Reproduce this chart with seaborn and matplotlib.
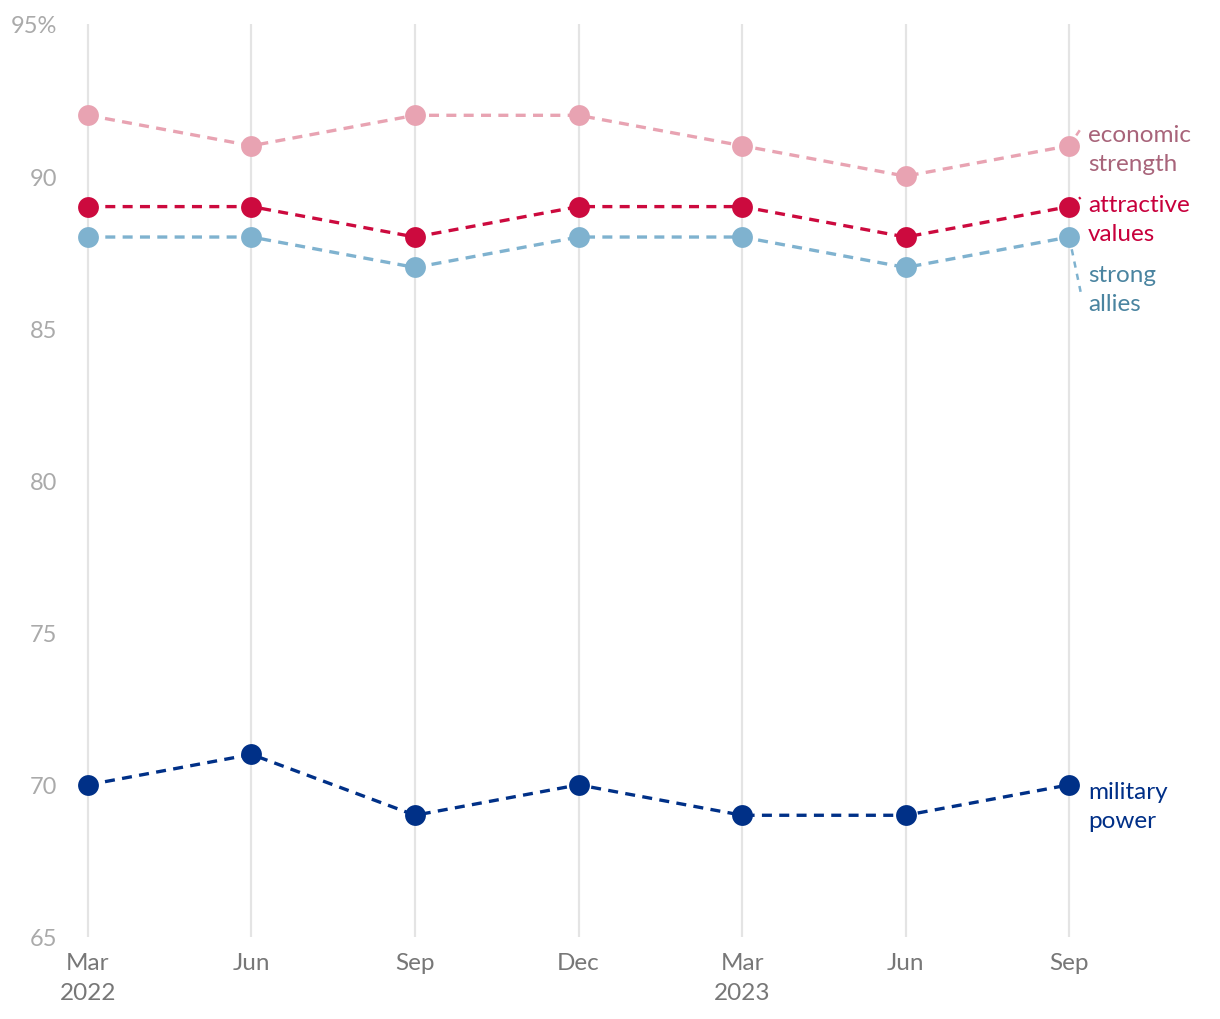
import pandas as pd
import seaborn as sns
import matplotlib.pyplot as plt

# survey waves
periods = ["Mar\n2022", "Jun", "Sep", "Dec", "Mar\n2023", "Jun", "Sep"]
economic = [92, 91, 92, 92, 91, 90, 91]
attractive = [89, 89, 88, 89, 89, 88, 89]
allies = [88, 88, 87, 88, 88, 87, 88]
military = [70, 71, 69, 70, 69, 69, 70]
yticks = [65, 70, 75, 80, 85, 90, 95]
ytick_labels = ["65", "70", "75", "80", "85", "90", "95%"]

series = [
    ("economic\nstrength", economic, "#e8a3b2", "#a8647a", 90.9, 91.55),
    ("attractive\nvalues", attractive, "#cc0a3e", "#c8003c", 88.6, 89.3),
    ("strong\nallies", allies, "#7fb2cf", "#4a84a0", 86.3, 86.2),
    ("military\npower", military, "#003087", "#002f87", 69.3, None),
]

sns.set_style("white")
plt.rcParams["font.family"] = ["Lato", "DejaVu Sans"]

fig = plt.figure(figsize=(12.2, 10.2), dpi=100)
ax = fig.add_axes([60 / 1220, 82 / 1020, 1140 / 1220, 913 / 1020])

x = list(range(len(periods)))
for name, vals, col, tcol, ly, lead in series:
    df = pd.DataFrame({"x": x, "y": vals})
    sns.lineplot(data=df, x="x", y="y", ax=ax, color=col, linewidth=2.4,
                 linestyle=(0, (3, 2.2)), zorder=3)
    ax.plot(x, vals, "o", color=col, markersize=15, markeredgewidth=0,
            clip_on=False, zorder=4)
    if lead is not None:
        ax.plot([x[-1], x[-1] + 0.07], [vals[-1], lead], color=col,
                linewidth=1.8, linestyle=(0, (2.5, 2.5)), zorder=2, clip_on=False)
    ax.text(x[-1] + 0.115, ly, name, color=tcol, fontsize=17.5, va="center",
            ha="left", linespacing=1.5)

for xi in x:
    ax.axvline(xi, color="#e4e4e4", linewidth=1.6, zorder=1)

ax.set_xlim(-0.171, 6.80)
ax.set_ylim(65, 95)
ax.set_xticks(x)
ax.set_xticklabels(periods, color="#777777", fontsize=17.5, linespacing=1.5)
ax.set_yticks(yticks)
ax.set_yticklabels(ytick_labels, color="#aaaaaa", fontsize=17)
ax.tick_params(length=0)
ax.tick_params(axis="y", pad=2)
ax.tick_params(axis="x", pad=11)
ax.set_xlabel("")
ax.set_ylabel("")
sns.despine(ax=ax, left=True, bottom=True)
ax.grid(False)

fig.savefig("out.png", dpi=100)
